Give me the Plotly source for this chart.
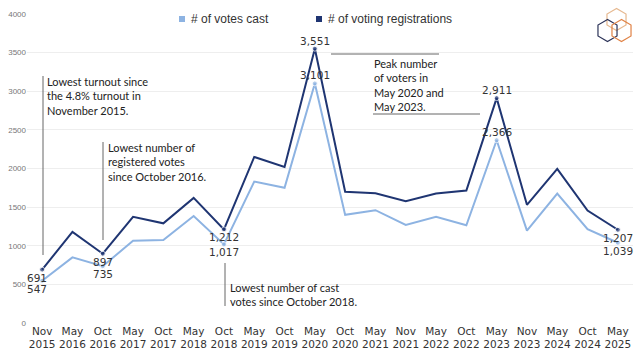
import plotly.graph_objects as go
import math

categories = ["Nov<br>2015", "May<br>2016", "Oct<br>2016", "May<br>2017", "Oct<br>2017",
              "May<br>2018", "Oct<br>2018", "May<br>2019", "Oct<br>2019", "May<br>2020",
              "Oct<br>2020", "May<br>2021", "Nov<br>2021", "May<br>2022", "Oct<br>2022",
              "May<br>2023", "Nov<br>2023", "May<br>2024", "Oct<br>2024", "May<br>2025"]
votes_cast = [547, 850, 735, 1065, 1075, 1385, 1017, 1830, 1750, 3101,
              1400, 1460, 1270, 1375, 1265, 2366, 1195, 1675, 1215, 1039]
registrations = [691, 1180, 897, 1375, 1290, 1620, 1212, 2150, 2020, 3551,
                 1700, 1680, 1575, 1675, 1715, 2911, 1530, 1995, 1455, 1207]
labeled_idx = [0, 2, 6, 9, 15, 19]
above_idx = [9, 15]
yticks = [0, 500, 1000, 1500, 2000, 2500, 3000, 3500, 4000]
series_names = ["# of votes cast", "# of voting registrations"]

DARK = "#1f3572"
LIGHT = "#8db3e2"
W, H = 640, 360
L, R, T, B = 27, 7, 14, 37
PW, PH = W - L - R, H - T - B


def px(x):
    return (x - L) / PW


def py(y):
    return (H - B - y) / PH


fig = go.Figure()
msize = [5 if i in labeled_idx else 0 for i in range(len(categories))]
fig.add_trace(go.Scatter(x=categories, y=votes_cast, mode="lines+markers", name=series_names[0],
                         line=dict(color=LIGHT, width=2), marker=dict(size=msize, color=LIGHT),
                         showlegend=False, hoverinfo="skip"))
fig.add_trace(go.Scatter(x=categories, y=registrations, mode="lines+markers", name=series_names[1],
                         line=dict(color=DARK, width=2), marker=dict(size=msize, color=DARK),
                         showlegend=False, hoverinfo="skip"))

# legend (square swatches + text)
leg_font = dict(family="Liberation Sans", size=12, color="#333333")
for sx, name, col in [(179, series_names[0], LIGHT), (316, series_names[1], DARK)]:
    fig.add_shape(type="rect", xref="paper", yref="paper", x0=px(sx), x1=px(sx + 6),
                  y0=py(22), y1=py(16), fillcolor=col, line=dict(width=0))
    fig.add_annotation(xref="paper", yref="paper", x=px(sx + 10), y=py(19), text=name,
                       showarrow=False, xanchor="left", yanchor="middle", font=leg_font)

lab_font = dict(family="DejaVu Sans", size=10.5, color="#333333")
for i in labeled_idx:
    sign = 1 if i in above_idx else -1
    xs = -5 if i == 0 else 0
    fig.add_annotation(x=categories[i], y=registrations[i], text=f"{registrations[i]:,}",
                       showarrow=False, yshift=sign * 8, xshift=xs, font=lab_font)
    fig.add_annotation(x=categories[i], y=votes_cast[i], text=f"{votes_cast[i]:,}",
                       showarrow=False, yshift=sign * 8, xshift=xs, font=lab_font)

note_font = dict(family="Lato", size=11, color="#222222")
notes = [
    (45, 73, "Lowest turnout since<br>the 4.8% turnout in<br>November 2015."),
    (106, 139, "Lowest number of<br>registered votes<br>since October 2016."),
    (228, 279, "Lowest number of cast<br>votes since October 2018."),
    (372, 55, "Peak number<br>of voters in<br>May 2020 and<br>May 2023."),
]
for x, y, t in notes:
    fig.add_annotation(xref="paper", yref="paper", x=px(x), y=py(y), text=t, showarrow=False,
                       xanchor="left", yanchor="top", align="left", font=note_font)

lines = [(43, 76, 43, 255), (103, 142, 103, 240), (225, 263, 225, 306),
         (331, 54, 439, 54), (373, 114, 480, 114)]
for x0, y0, x1, y1 in lines:
    fig.add_shape(type="line", xref="paper", yref="paper", x0=px(x0), y0=py(y0),
                  x1=px(x1), y1=py(y1), line=dict(color="#666666", width=1))


def hexpath(cx, cy, r):
    pts = []
    for k in range(6):
        a = math.radians(90 + 60 * k)
        pts.append((px(cx + r * math.cos(a)), py(cy - r * math.sin(a))))
    return "M " + " L ".join(f"{a:.5f},{b:.5f}" for a, b in pts) + " Z"


for cx, cy, col in [(616.5, 19.5, "#e6b88f"), (607.5, 30.5, "#2c3358"), (621.5, 30.5, "#e08245")]:
    fig.add_shape(type="path", xref="paper", yref="paper", path=hexpath(cx, cy, 11),
                  line=dict(color=col, width=1.2))

fig.update_layout(
    width=W, height=H, margin=dict(l=L, r=R, t=T, b=B, autoexpand=False),
    paper_bgcolor="white", plot_bgcolor="white", showlegend=False,
    xaxis=dict(range=[-0.5, len(categories) - 0.5], showgrid=False, showline=False,
               zeroline=False, ticks="", tickangle=0, automargin=False,
               tickfont=dict(family="DejaVu Sans", size=10.5, color="#333333")),
    yaxis=dict(range=[0, 4000], tickvals=yticks, showgrid=True, gridcolor="#eeeeee",
               zeroline=False, showline=False, ticks="", automargin=False,
               tickfont=dict(family="Liberation Sans", size=8, color="#777777")),
)
fig.write_html("out.html", config={"displayModeBar": False},
               post_script="document.body.style.margin='0';")
